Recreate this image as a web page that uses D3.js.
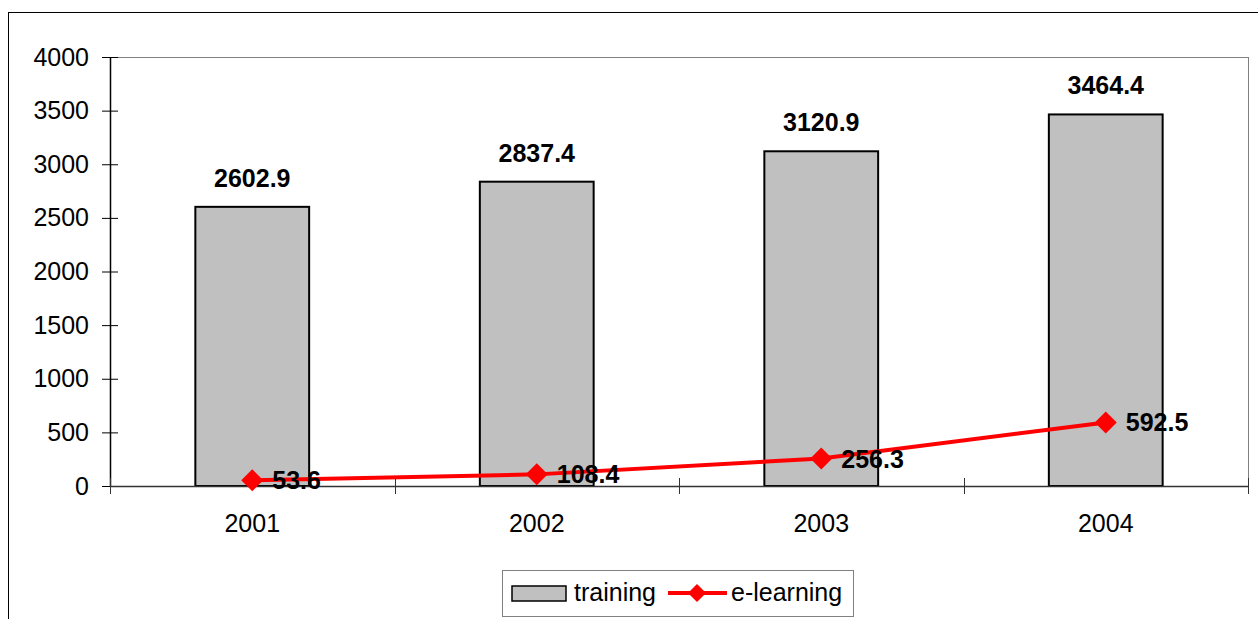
<!DOCTYPE html>
<html>
<head>
<meta charset="utf-8">
<script src="https://cdn.jsdelivr.net/npm/d3@7"></script>
<style>
  body { margin: 0; background: #fff; }
  svg { display: block; font-family: "Liberation Sans", Arial, sans-serif; }
</style>
</head>
<body>
<div id="chart"></div>
<script>
/* chart values */
var years = ["2001", "2002", "2003", "2004"];
var training = [2602.9, 2837.4, 3120.9, 3464.4];
var elearning = [53.6, 108.4, 256.3, 592.5];
var yTicks = [0, 500, 1000, 1500, 2000, 2500, 3000, 3500, 4000];

var width = 1258, height = 619;
var plot = {left: 110, right: 1248, top: 57, bottom: 486};
var fontSize = 25;

var svg = d3.select("#chart").append("svg")
    .attr("width", width)
    .attr("height", height);

/* outer frame, cut by the window on the right and bottom */
svg.append("rect")
    .attr("x", 8.5).attr("y", 12.5)
    .attr("width", 1400).attr("height", 800)
    .attr("fill", "none")
    .attr("stroke", "#000");

var x = d3.scaleBand().domain(years).range([plot.left, plot.right]).padding(0);
var y = d3.scaleLinear().domain([0, 4000]).range([plot.bottom, plot.top]);

/* plot area border */
svg.append("rect")
    .attr("x", plot.left + 0.5).attr("y", plot.top + 0.5)
    .attr("width", plot.right - plot.left).attr("height", plot.bottom - plot.top)
    .attr("fill", "none")
    .attr("stroke", "#808080");

/* bars */
var barW = x.bandwidth() * 0.4;
svg.append("g").selectAll("rect")
    .data(training)
    .join("rect")
    .attr("x", function (d, i) { return x(years[i]) + (x.bandwidth() - barW) / 2; })
    .attr("y", function (d) { return y(d); })
    .attr("width", barW)
    .attr("height", function (d) { return y(0) - y(d); })
    .attr("fill", "#c0c0c0")
    .attr("stroke", "#000")
    .attr("stroke-width", 2);

/* y axis with ticks crossing the line */
var yAxis = svg.append("g")
    .attr("transform", "translate(" + plot.left + ",0)")
    .call(d3.axisLeft(y).tickValues(yTicks).tickFormat(d3.format("d"))
        .tickSize(8).tickSizeOuter(0).tickPadding(13));
yAxis.selectAll(".tick line").attr("x1", 8).attr("stroke", "#000");
yAxis.select(".domain").attr("stroke", "#000").attr("stroke-width", 1.5);
yAxis.selectAll("text")
    .attr("font-size", fontSize)
    .attr("font-family", "Liberation Sans, Arial, sans-serif")
    .attr("fill", "#000");

/* x axis: labels at band centres, ticks at band edges */
var xAxis = svg.append("g")
    .attr("transform", "translate(0," + plot.bottom + ")")
    .call(d3.axisBottom(x).tickSize(0).tickPadding(28));
xAxis.select(".domain").attr("stroke", "#333").attr("stroke-width", 1.5);
xAxis.selectAll("text")
    .attr("font-size", fontSize)
    .attr("font-family", "Liberation Sans, Arial, sans-serif")
    .attr("fill", "#000");

var edges = years.map(function (d) { return x(d); }).concat([plot.right]);
xAxis.selectAll(".edge")
    .data(edges)
    .join("line")
    .attr("class", "edge")
    .attr("x1", function (d) { return Math.round(d) + 0.5; })
    .attr("x2", function (d) { return Math.round(d) + 0.5; })
    .attr("y1", -8).attr("y2", 8)
    .attr("stroke", "#333");

/* bar value labels */
svg.append("g").selectAll("text")
    .data(training)
    .join("text")
    .attr("x", function (d, i) { return x(years[i]) + x.bandwidth() / 2; })
    .attr("y", function (d) { return y(d) - 20; })
    .attr("text-anchor", "middle")
    .attr("font-size", fontSize)
    .attr("font-weight", "bold")
    .text(function (d) { return d.toFixed(1); });

/* e-learning line */
var cx = function (d, i) { return x(years[i]) + x.bandwidth() / 2; };
var line = d3.line()
    .x(cx)
    .y(function (d) { return y(d); });

svg.append("path")
    .datum(elearning)
    .attr("d", line)
    .attr("fill", "none")
    .attr("stroke", "#ff0000")
    .attr("stroke-width", 4);

var diamond = function (s) {
    return "M0," + (-s) + "L" + s + ",0L0," + s + "L" + (-s) + ",0Z";
};

svg.append("g").selectAll("path")
    .data(elearning)
    .join("path")
    .attr("transform", function (d, i) { return "translate(" + cx(d, i) + "," + y(d) + ")"; })
    .attr("d", diamond(11))
    .attr("fill", "#ff0000");

svg.append("g").selectAll("text")
    .data(elearning)
    .join("text")
    .attr("x", function (d, i) { return cx(d, i) + 20; })
    .attr("y", function (d) { return y(d); })
    .attr("dy", "0.36em")
    .attr("font-size", fontSize)
    .attr("font-weight", "bold")
    .text(function (d) { return d.toFixed(1); });

/* legend */
var legend = svg.append("g");
legend.append("rect")
    .attr("x", 502.5).attr("y", 570.5)
    .attr("width", 351).attr("height", 46)
    .attr("fill", "#fff")
    .attr("stroke", "#808080");

legend.append("rect")
    .attr("x", 512).attr("y", 586)
    .attr("width", 54).attr("height", 15)
    .attr("fill", "#c0c0c0")
    .attr("stroke", "#000")
    .attr("stroke-width", 1.5);
legend.append("text")
    .attr("x", 574).attr("y", 601)
    .attr("font-size", fontSize)
    .text("training");

legend.append("line")
    .attr("x1", 668).attr("x2", 727)
    .attr("y1", 593).attr("y2", 593)
    .attr("stroke", "#ff0000")
    .attr("stroke-width", 4);
legend.append("path")
    .attr("transform", "translate(697,593)")
    .attr("d", diamond(9))
    .attr("fill", "#ff0000");
legend.append("text")
    .attr("x", 731).attr("y", 601)
    .attr("font-size", fontSize)
    .text("e-learning");
</script>
</body>
</html>
